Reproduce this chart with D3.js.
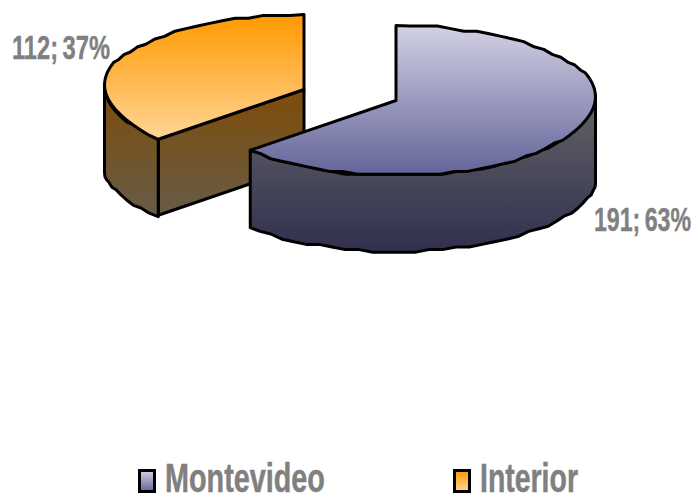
<!DOCTYPE html>
<html><head><meta charset="utf-8">
<script src="https://cdn.jsdelivr.net/npm/d3@7"></script>
<style>html,body{margin:0;background:#fff}svg{display:block}</style></head>
<body><svg id="c" width="697" height="494"></svg>
<script>
const categories = ["Montevideo", "Interior"];
const seriesValues = [191, 112];
const dataLabels = ["191; 63%", "112; 37%"];

const svg = d3.select("#c");
const defs = svg.append("defs");
function grad(id, c0, c1) {
  const g = defs.append("linearGradient").attr("id", id).attr("x1", 0).attr("x2", 0).attr("y1", 0).attr("y2", 1);
  g.append("stop").attr("offset", 0).attr("stop-color", c0);
  g.append("stop").attr("offset", 1).attr("stop-color", c1);
}
grad("topA", "#d2d1e4", "#646499");
grad("sideA", "#636368", "#30304e");
grad("topB", "#ff9900", "#ffd596");
grad("sideB", "#7f4c08", "#665c48");
grad("keyA", "#d2d1e4", "#646499");
grad("keyB", "#ff9900", "#ffd596");

const rx = 199.5, ry = 75, depth = 76;
const pie = d3.pie().value(d => d).sort(null).startAngle(0).endAngle(2 * Math.PI);
const arcs = pie(seriesValues);
const centers = [{ x: 396, y: 100.5 }, { x: 304, y: 89.5 }];
const snap = 2.6;

function rim(c, a0, a1, dy) {
  const n = Math.max(2, Math.round(Math.abs(a1 - a0) / 0.07));
  const s = d3.scaleLinear().domain([0, n]).range([a0, a1]);
  return d3.range(n + 1).map(i => {
    const a = s(i);
    const sn = Math.sin(a), cs = Math.cos(a);
    // the drawn outline is not a true ellipse: the top rim rises and the lower rim drops near the sides
    const warp = dy === 0
      ? -5 * (cs < 0 ? Math.pow(sn, 4) : Math.pow(sn, 8))
      : 7 * Math.pow(Math.abs(sn), 60);
    const x = c.x + rx * sn, y = c.y - ry * cs + dy + warp;
    const ends = i === 0 || i === n;
    return ends ? [x, y] : [x, Math.round(y / snap) * snap];
  });
}
const line = d3.line();
const stroke = { stroke: "#000", "stroke-width": 3, "stroke-linejoin": "round" };
function draw(d, attrs) {
  const p = svg.append("path").attr("d", d);
  Object.entries({ ...stroke, ...attrs }).forEach(([k, v]) => p.attr(k, v));
}

// Interior (drawn first, sits behind)
{
  const c = centers[1], a = arcs[1];
  const top = rim(c, a.startAngle, a.endAngle, 0);
  const p0 = top[0];
  draw(line([p0, [c.x, c.y], [c.x, c.y + depth], [p0[0], p0[1] + depth]]) + "Z", { fill: "url(#sideB)" });
  const wallTop = rim(c, a.startAngle, 1.5 * Math.PI, 0);
  const wallBot = rim(c, a.startAngle, 1.5 * Math.PI, depth);
  draw(line(wallTop.concat(wallBot.reverse())) + "Z", { fill: "url(#sideB)" });
  draw(line([[c.x, c.y]].concat(top)) + "Z", { fill: "url(#topB)" });
}
// Montevideo
{
  const c = centers[0], a = arcs[0];
  const top = rim(c, a.startAngle, a.endAngle, 0);
  const wallTop = rim(c, Math.PI / 2, a.endAngle, 0);
  const wallBot = rim(c, Math.PI / 2, a.endAngle, depth);
  draw(line(wallTop.concat(wallBot.reverse())) + "Z", { fill: "url(#sideA)" });
  draw(line([[c.x, c.y]].concat(top)) + "Z", { fill: "url(#topA)" });
}

function txt(s, x, baseline, w, size, extra) {
  const t = svg.append("text").text(s)
    .attr("font-family", "'Liberation Sans',Arial,sans-serif")
    .attr("font-weight", "bold").attr("font-size", size).attr("fill", "#808080")
    .attr("stroke", "#808080").attr("stroke-width", extra)
    .attr("word-spacing", -3);
  const k = w / t.node().getComputedTextLength();
  t.attr("transform", `translate(${x},${baseline}) scale(${k},1)`);
}
txt(dataLabels[1], 12, 59, 98, 33, 0.4);
txt(dataLabels[0], 594, 231, 97, 33, 0.4);

const legendX = [139.5, 454.5], legendText = [165, 480], legendW = [160, 98];
categories.forEach((name, i) => {
  svg.append("rect").attr("x", legendX[i]).attr("y", 470.5).attr("width", 15).attr("height", 21)
    .attr("fill", `url(#key${"AB"[i]})`).attr("stroke", "#000").attr("stroke-width", 3);
  txt(name, legendText[i], 491.5, legendW[i], 40, 0.5);
});
</script></body></html>
